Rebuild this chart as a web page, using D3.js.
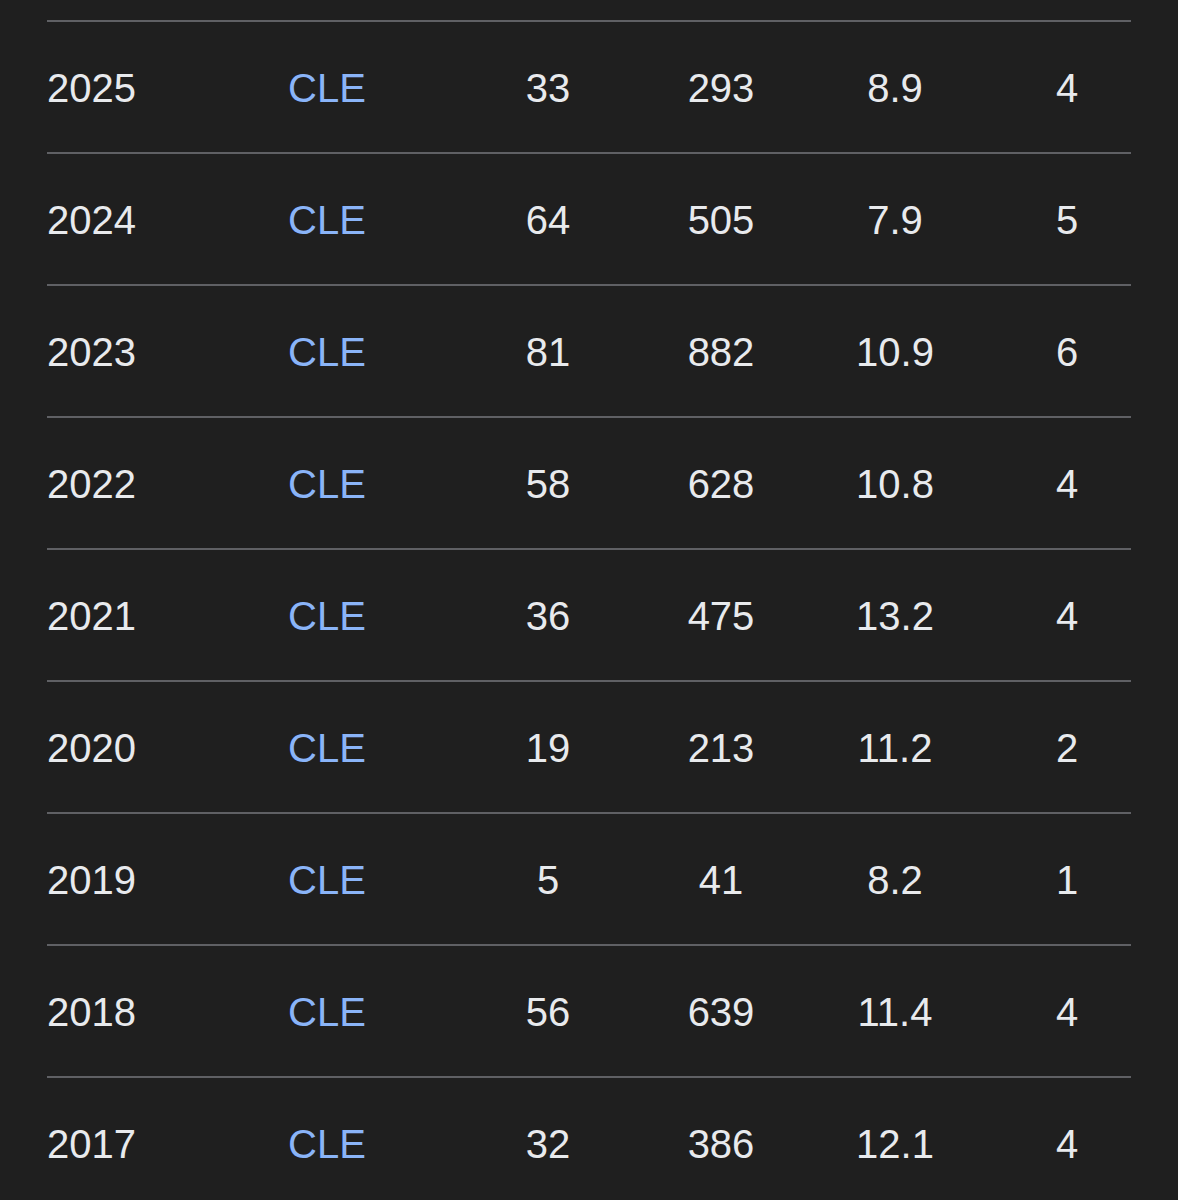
<!DOCTYPE html>
<html lang="en">

<head>
    <meta charset="UTF-8">
    <title>CLE season table</title>
    <style>
        body {
            margin: 0;
            padding: 0;
            background: #1f1f1f;
        }

        svg {
            display: block;
        }

        .cell {
            font-family: "Liberation Sans", Arial, sans-serif;
            font-size: 40px;
            fill: #e8eaed;
        }

        .team {
            fill: #8ab4f8;
        }
    </style>
</head>

<body>

    <svg></svg>

    <script src="https://d3js.org/d3.v7.min.js"></script>
    <script>
        const width = 1178;
        const height = 1200;

        // Table values, one array per column
        const seasons = ["2025", "2024", "2023", "2022", "2021", "2020", "2019", "2018", "2017"];
        const teams = ["CLE", "CLE", "CLE", "CLE", "CLE", "CLE", "CLE", "CLE", "CLE"];
        const receptions = [33, 64, 81, 58, 36, 19, 5, 56, 32];
        const yards = [293, 505, 882, 628, 475, 213, 41, 639, 386];
        const avg = ["8.9", "7.9", "10.9", "10.8", "13.2", "11.2", "8.2", "11.4", "12.1"];
        const touchdowns = [4, 5, 6, 4, 4, 2, 1, 4, 4];

        const columns = [seasons, teams, receptions, yards, avg, touchdowns];

        // Column layout (x position and anchor for each column)
        const colX = [47, 327, 548, 721, 895, 1067];
        const colAnchor = ["start", "middle", "middle", "middle", "middle", "middle"];

        const svg = d3.select("svg")
            .attr("width", width)
            .attr("height", height);

        svg.append("rect")
            .attr("width", width)
            .attr("height", height)
            .attr("fill", "#1f1f1f");

        // One band per row, rule at the top of each band
        const y = d3.scaleBand()
            .domain(seasons)
            .range([21, 21 + 132 * seasons.length]);

        const rows = svg.selectAll(".row")
            .data(seasons)
            .enter()
            .append("g")
            .attr("class", "row")
            .attr("transform", d => `translate(0,${y(d)})`);

        rows.append("line")
            .attr("x1", 47)
            .attr("x2", 1131)
            .attr("y1", 0)
            .attr("y2", 0)
            .attr("stroke", "#5f6064")
            .attr("stroke-width", 2);

        rows.each(function (d, i) {
            const row = d3.select(this);
            columns.forEach((col, c) => {
                row.append("text")
                    .attr("class", c === 1 ? "cell team" : "cell")
                    .attr("x", colX[c])
                    .attr("y", y.bandwidth() / 2 + 1)
                    .attr("dy", "0.36em")
                    .attr("text-anchor", colAnchor[c])
                    .text(col[i]);
            });
        });
    </script>

</body>

</html>
